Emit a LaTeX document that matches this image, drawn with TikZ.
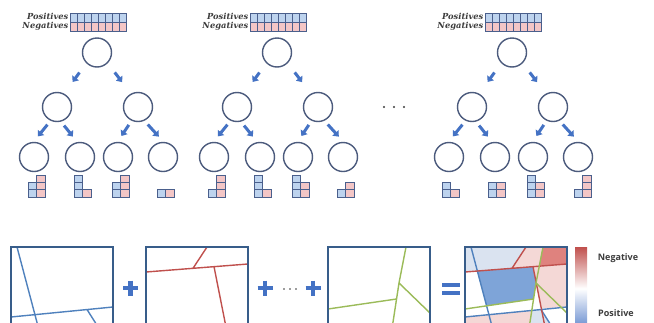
\documentclass[tikz,border=0pt]{standalone}
\usepackage{fontspec}
\newfontfamily\barfont{Open Sans}
\newfontfamily\rowfont{DejaVu Serif}
\usetikzlibrary{arrows.meta}

\definecolor{nodeline}{RGB}{76,91,125}
\definecolor{arrblue}{RGB}{68,114,196}
\definecolor{posfill}{RGB}{189,211,238}
\definecolor{negfill}{RGB}{243,198,198}
\definecolor{cellline}{RGB}{74,95,140}
\definecolor{boxline}{RGB}{56,93,138}
\definecolor{cutblue}{RGB}{79,129,189}
\definecolor{cutred}{RGB}{192,80,77}
\definecolor{cutgreen}{RGB}{155,187,89}
\definecolor{mixblue}{RGB}{126,164,216}
\definecolor{mixpale}{RGB}{218,227,240}
\definecolor{mixpink}{RGB}{244,216,214}
\definecolor{mixred}{RGB}{223,130,126}
\definecolor{textgray}{RGB}{60,60,60}

\tikzset{
  split/.style={circle,draw=nodeline,line width=1.4pt,minimum size=29pt,inner sep=0pt},
  arr/.style={-{Triangle[length=5pt,width=8pt]},line width=3pt,arrblue},
  poscell/.style={draw=cellline,fill=posfill,line width=0.7pt},
  negcell/.style={draw=cellline,fill=negfill,line width=0.7pt},
  rowlabel/.style={anchor=east,inner sep=0pt,text height=6pt,text depth=1.5pt,text=textgray,
    font=\rowfont\fontsize{8.3}{10}\selectfont\bfseries\itshape},
  cutbox/.style={draw=boxline,line width=1.8pt},
  opsign/.style={arrblue,line width=4.5pt},
}

% leaf histogram: x, bottom y, #positives, #negatives
\newcommand{\leafhist}[4]{%
  \foreach \k in {1,...,#3}
    \draw[poscell] ({#1-8.5},{#2-7.3*\k}) rectangle ++(8.5,7.3);
  \foreach \k in {1,...,#4}
    \draw[negcell] (#1,{#2-7.3*\k}) rectangle ++(8.5,7.3);
}

% the three sets of cuts, box-relative
\newcommand{\bluecuts}{\draw[cutblue,line width=1.4pt] (6,0) -- (28,83) (0,70) -- (102,60) (76,62.5) -- (89,83);}
\newcommand{\redcuts}{\draw[cutred,line width=1.4pt] (0,25) -- (102,17) (47,21.3) -- (61,0) (68,19.6) -- (80.6,83);}
\newcommand{\greencuts}{\draw[cutgreen,line width=1.4pt] (78,0) -- (71,36) -- (63.8,83) (71,36) -- (102,66) (0,62) -- (68.5,52);}

\begin{document}
\begin{tikzpicture}[x=1pt,y=-1pt]
\clip (0,0) rectangle (654,322);
\fill[white] (0,0) rectangle (654,322);

% trees
\foreach \ox/\tn in {0/a,180/b,415/c}{
  \node[split] (\tn0) at (\ox+97,52.5) {};
  \node[split] (\tn1) at (\ox+57,107) {};
  \node[split] (\tn2) at (\ox+138,107) {};
  \node[split] (\tn3) at (\ox+34,157) {};
  \node[split] (\tn4) at (\ox+80,157) {};
  \node[split] (\tn5) at (\ox+118,157) {};
  \node[split] (\tn6) at (\ox+163,157) {};
  \draw[arr,shorten <=11.5pt,shorten >=14.4pt] (\tn0.225) -- (\tn1.62);
  \draw[arr,shorten <=11.5pt,shorten >=14.4pt] (\tn0.315) -- (\tn2.118);
  \draw[arr,shorten <=5pt,shorten >=7pt] (\tn1.245) -- (\tn3.92);
  \draw[arr,shorten <=5pt,shorten >=7pt] (\tn1.285) -- (\tn4.100);
  \draw[arr,shorten <=5pt,shorten >=7pt] (\tn2.245) -- (\tn5.92);
  \draw[arr,shorten <=5pt,shorten >=7pt] (\tn2.295) -- (\tn6.88);
  \foreach \i in {0,...,7}{
    \draw[poscell] (\ox+70+7*\i,13) rectangle ++(7,9);
    \draw[negcell] (\ox+70+7*\i,22) rectangle ++(7,9);
  }
  \node[rowlabel] (\tn pos) at (\ox+68.5,17.5) {Positives};
  \node[rowlabel] (\tn neg) at (\ox+68.5,26.5) {Negatives};
}

% leaf counts
\leafhist{36.5}{197}{2}{3}
\leafhist{82.5}{197}{3}{1}
\leafhist{120.5}{197}{2}{3}
\leafhist{165.5}{197}{1}{1}
\leafhist{216.5}{197}{1}{3}
\leafhist{262.5}{197}{3}{1}
\leafhist{300.5}{197}{3}{2}
\leafhist{345.5}{197}{1}{2}
\leafhist{450.5}{197}{2}{1}
\leafhist{496.5}{197}{2}{2}
\leafhist{535.5}{197}{3}{2}
\leafhist{582.5}{197}{1}{3}

\foreach \dx in {384,394,404}
  \fill[textgray] (\dx,107) circle (1.1);

% partitions
\begin{scope}[shift={(11,247)}]
  \begin{scope}
    \clip (0,0) rectangle (102,83);
    \bluecuts
  \end{scope}
  \draw[cutbox] (0,0) rectangle (102,83);
\end{scope}
\begin{scope}[shift={(146,247)}]
  \begin{scope}
    \clip (0,0) rectangle (102,83);
    \redcuts
  \end{scope}
  \draw[cutbox] (0,0) rectangle (102,83);
\end{scope}
\begin{scope}[shift={(328,247)}]
  \begin{scope}
    \clip (0,0) rectangle (102,83);
    \greencuts
  \end{scope}
  \draw[cutbox] (0,0) rectangle (102,83);
\end{scope}
\begin{scope}[shift={(465,247)}]
  \begin{scope}
    \clip (0,0) rectangle (102,83);
    \fill[mixpale] (0,0) -- (61,0) -- (47,21.3) -- (0,25) -- cycle;
    \fill[mixpink] (61,0) -- (78,0) -- (74.3,19.1) -- (47,21.3) -- cycle;
    \fill[mixred] (78,0) -- (102,0) -- (102,17) -- (74.3,19.1) -- cycle;
    \fill[mixblue] (12.1,24) -- (68,19.6) -- (71,36) -- (68.5,52) -- (21.4,58.9) -- cycle;
    \fill[mixpink] (68,19.6) -- (102,17) -- (102,60) -- (76.3,61.3) -- cycle;
    \fill[mixpink] (0,70) -- (66.6,63.5) -- (63.8,83) -- (0,83) -- cycle;
    \fill[mixpale] (66.6,63.5) -- (76,62.5) -- (89,83) -- (63.8,83) -- cycle;
    \bluecuts
    \redcuts
    \greencuts
  \end{scope}
  \draw[cutbox] (0,0) rectangle (102,83);
\end{scope}

% operators
\draw[opsign] (123,288) -- (138,288) (130.5,280.5) -- (130.5,295.5);
\draw[opsign] (257.5,288) -- (272.5,288) (265,280.5) -- (265,295.5);
\draw[opsign] (305.5,288) -- (320.5,288) (313,280.5) -- (313,295.5);
\foreach \dx in {284,290,296}
  \fill[textgray] (\dx,289) circle (0.9);
\draw[opsign,line width=4pt] (442,284.5) -- (460,284.5) (442,292.5) -- (460,292.5);

% colour scale
\shade[top color=cutred,bottom color=arrblue!85,middle color=white] (575,247) rectangle (587,330);
\node[text=textgray,font=\barfont\fontsize{9}{11}\selectfont\bfseries] (negl) at (618,258) {Negative};
\node[text=textgray,font=\barfont\fontsize{9}{11}\selectfont\bfseries] (posl) at (616,313) {Positive};
\end{tikzpicture}
\end{document}
